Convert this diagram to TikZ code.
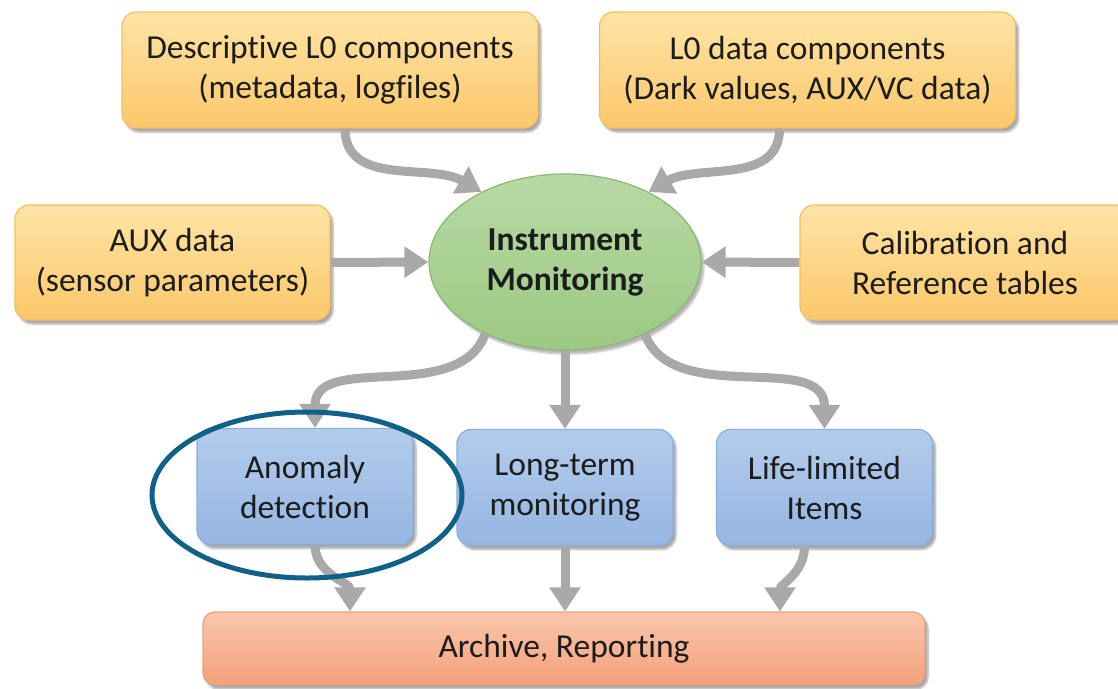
\documentclass[tikz,border=0pt]{standalone}
\usepackage{fontspec}
\setmainfont{Carlito}[Ligatures=NoCommon]
\usetikzlibrary{arrows.meta,shapes.geometric,shadows.blur}
\definecolor{flowgray}{HTML}{A9A9A9}
\definecolor{ringblue}{HTML}{0F6187}
\definecolor{txt}{HTML}{1C1C1C}
\definecolor{inTop}{HTML}{FFE4A6}
\definecolor{inBot}{HTML}{FBC86A}
\definecolor{inLine}{HTML}{F0C060}
\definecolor{outTop}{HTML}{B3CCEC}
\definecolor{outBot}{HTML}{95B6E1}
\definecolor{outLine}{HTML}{8CAEDA}
\definecolor{imTop}{HTML}{B8D9A4}
\definecolor{imBot}{HTML}{9CC983}
\definecolor{imLine}{HTML}{8BB673}
\definecolor{arTop}{HTML}{FAC6AC}
\definecolor{arBot}{HTML}{F4A07C}
\definecolor{arLine}{HTML}{E9A07E}
\begin{document}
\begin{tikzpicture}[x=1pt,y=1pt,
  every node/.style={font=\fontsize{33.5}{40}\selectfont, text=txt, align=center},
  boxbase/.style={rectangle, rounded corners=14pt, line width=1.2pt,
    blur shadow={shadow xshift=3pt, shadow yshift=-4pt, shadow blur steps=6, shadow opacity=35}},
  inbox/.style={boxbase, draw=inLine, top color=inTop, bottom color=inBot,
    minimum width=416pt, minimum height=116pt},
  outbox/.style={boxbase, draw=outLine, top color=outTop, bottom color=outBot,
    minimum width=216pt, minimum height=116pt, text width=200pt},
  flow/.style={draw=flowgray, line width=9pt, -{Triangle[width=30pt,length=24pt]}}
]
\useasboundingbox (0,0) rectangle (1118,-688);

% input sources
\node[inbox] (desc) at (330,-70) {Descriptive L0 components\\(metadata, logfiles)};
\node[inbox] (lzero) at (807.5,-70) {L0 data components\\(Dark values, AUX/VC data)};
\node[inbox, minimum width=315pt, minimum height=115pt] (aux) at (172.5,-262.5) {AUX data\\(sensor parameters)};
\node[inbox, minimum width=330pt, minimum height=115pt] (cal) at (965,-262.5) {Calibration and\\Reference tables};

% central process
\node[ellipse, draw=imLine, line width=1.2pt, top color=imTop, bottom color=imBot,
  minimum width=272pt, minimum height=176pt, font=\fontsize{33.5}{40}\selectfont\bfseries,
  blur shadow={shadow xshift=3pt, shadow yshift=-4pt, shadow blur steps=6, shadow opacity=30}] (im) at (565,-262) {Instrument\\Monitoring};

% outputs
\node[outbox] (anom) at (305,-486.5) {Anomaly\\detection};
\node[outbox] (lt) at (565,-487.5) {Long-term\\monitoring};
\node[outbox] (life) at (824.5,-487.5) {Life-limited\\Items};

\node[boxbase, rounded corners=12pt, draw=arLine, top color=arTop, bottom color=arBot,
  minimum width=722pt, minimum height=73pt] (arch) at (564,-648.5) {Archive, Reporting};

% connectors into the monitoring step
\draw[flow] ([xshift=15pt]desc.south) to[out=-90,in=150] (im.140);
\draw[flow] ([xshift=-28pt]lzero.south) to[out=-90,in=30] (im.40);
\draw[flow] (aux.east) -- (im.west);
\draw[flow] (cal.west) -- (im.east);

% connectors out of the monitoring step
\draw[flow] (im.-138) to[out=-110,in=90] ([xshift=10pt]anom.north);
\draw[flow] (im.south) -- (lt.north);
\draw[flow] (im.-42) to[out=-70,in=90] (life.north);

% connectors into the archive
\draw[flow] ([xshift=10pt]anom.south) to[out=-90,in=90] ([xshift=-214pt]arch.north);
\draw[flow] (lt.south) -- ([xshift=1pt]arch.north);
\draw[flow] ([xshift=-20pt]life.south) to[out=-90,in=90] ([xshift=216pt]arch.north);

% highlight ring
\node[ellipse, draw=ringblue, line width=5pt, minimum width=310pt, minimum height=166pt] (ring) at (307,-495) {};
\end{tikzpicture}
\end{document}
